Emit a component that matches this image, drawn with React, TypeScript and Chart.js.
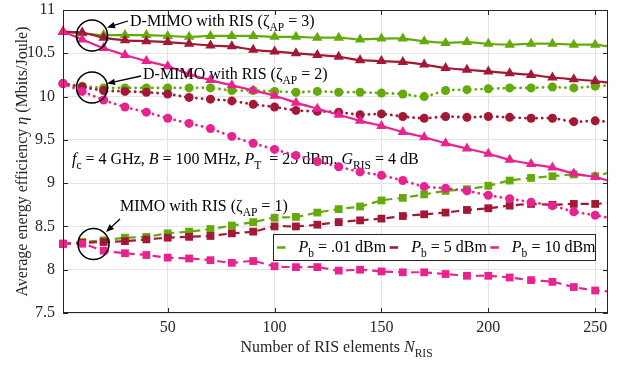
import React, { useEffect, useRef } from 'react';
import { Chart, registerables } from 'chart.js';

Chart.register(...registerables);

// ---------- data ----------
const xValues = [1, 10, 20, 30, 40, 50, 60, 70, 80, 90, 100, 110, 120, 130, 140, 150, 160, 170, 180, 190, 200, 210, 220, 230, 240, 250, 256];
const xTicks = [50, 100, 150, 200, 250];
const yTicks = [7.5, 8, 8.5, 9, 9.5, 10, 10.5, 11];

// D-MIMO with RIS (zeta_AP = 3) : solid + triangles
const green3 = [10.75, 10.73, 10.71, 10.71, 10.71, 10.70, 10.69, 10.70, 10.70, 10.70, 10.69, 10.69, 10.68, 10.68, 10.66, 10.67, 10.67, 10.64, 10.62, 10.63, 10.61, 10.60, 10.61, 10.61, 10.60, 10.60, 10.58];
const red3 = [10.75, 10.74, 10.68, 10.65, 10.64, 10.63, 10.61, 10.59, 10.58, 10.54, 10.52, 10.50, 10.48, 10.46, 10.42, 10.41, 10.40, 10.37, 10.33, 10.31, 10.29, 10.27, 10.25, 10.22, 10.20, 10.18, 10.16];
const magenta3 = [10.75, 10.66, 10.56, 10.48, 10.41, 10.35, 10.26, 10.19, 10.13, 10.07, 10.01, 9.93, 9.86, 9.79, 9.72, 9.66, 9.59, 9.53, 9.46, 9.40, 9.34, 9.27, 9.22, 9.18, 9.11, 9.07, 9.03];

// D-MIMO with RIS (zeta_AP = 2) : dotted + circles
const green2 = [10.15, 10.12, 10.10, 10.10, 10.10, 10.10, 10.10, 10.10, 10.07, 10.07, 10.06, 10.05, 10.06, 10.05, 10.05, 10.04, 10.03, 10.00, 10.07, 10.08, 10.09, 10.10, 10.10, 10.11, 10.10, 10.12, 10.13];
const red2 = [10.15, 10.11, 10.07, 10.06, 10.05, 10.03, 9.99, 9.97, 9.95, 9.91, 9.88, 9.84, 9.83, 9.82, 9.79, 9.80, 9.77, 9.75, 9.77, 9.76, 9.77, 9.76, 9.75, 9.75, 9.71, 9.72, 9.71];
const magenta2 = [10.15, 10.06, 9.96, 9.88, 9.82, 9.75, 9.69, 9.63, 9.54, 9.46, 9.39, 9.32, 9.25, 9.19, 9.13, 9.09, 9.03, 8.96, 8.94, 8.91, 8.86, 8.82, 8.78, 8.74, 8.67, 8.63, 8.60];

// MIMO with RIS (zeta_AP = 1) : dashed + squares
const green1 = [8.30, 8.32, 8.34, 8.37, 8.38, 8.42, 8.44, 8.47, 8.51, 8.55, 8.60, 8.61, 8.66, 8.70, 8.73, 8.80, 8.83, 8.87, 8.91, 8.93, 8.97, 9.03, 9.06, 9.08, 9.10, 9.08, 9.12];
const red1 = [8.30, 8.31, 8.32, 8.33, 8.35, 8.37, 8.38, 8.39, 8.42, 8.44, 8.50, 8.50, 8.52, 8.55, 8.57, 8.59, 8.62, 8.64, 8.66, 8.69, 8.71, 8.74, 8.76, 8.75, 8.76, 8.76, 8.77];
const magenta1 = [8.30, 8.30, 8.22, 8.19, 8.17, 8.14, 8.13, 8.11, 8.08, 8.10, 8.04, 8.03, 8.03, 7.99, 8.00, 7.98, 7.97, 7.97, 7.95, 7.93, 7.93, 7.91, 7.88, 7.86, 7.80, 7.76, 7.75];

const legendLabels = ['.01 dBm', '5 dBm', '10 dBm'];

const GREEN = 'rgb(100,170,10)';
const RED = 'rgb(162,24,54)';
const MAGENTA = 'rgb(232,34,142)';
const legendColors = [GREEN, RED, MAGENTA];

const FONT = '"Liberation Serif", "Times New Roman", serif';
const TXT = '#262626';

// ---------- rich text ----------
type Part = { t: string; it?: boolean; sub?: boolean };

function setFont(ctx: CanvasRenderingContext2D, p: Part, size: number) {
  const s = p.sub ? size * 0.72 : size;
  ctx.font = `${p.it ? 'italic ' : ''}${s}px ${FONT}`;
}
function measureRich(ctx: CanvasRenderingContext2D, parts: Part[], size: number) {
  let w = 0;
  for (const p of parts) {
    setFont(ctx, p, size);
    w += ctx.measureText(p.t).width;
  }
  return w;
}
function drawRich(ctx: CanvasRenderingContext2D, x: number, y: number, parts: Part[], size: number, color: string) {
  ctx.save();
  ctx.fillStyle = color;
  ctx.textBaseline = 'alphabetic';
  ctx.textAlign = 'left';
  let cx = x;
  for (const p of parts) {
    setFont(ctx, p, size);
    ctx.fillText(p.t, cx, p.sub ? y + size * 0.32 : y);
    cx += ctx.measureText(p.t).width;
  }
  ctx.restore();
  return cx - x;
}

function arrow(ctx: CanvasRenderingContext2D, x1: number, y1: number, x2: number, y2: number) {
  const ang = Math.atan2(y2 - y1, x2 - x1);
  const L = 8, W = 3.2;
  ctx.save();
  ctx.strokeStyle = '#000';
  ctx.fillStyle = '#000';
  ctx.lineWidth = 1.3;
  ctx.beginPath();
  ctx.moveTo(x1, y1);
  ctx.lineTo(x2 - Math.cos(ang) * L * 0.8, y2 - Math.sin(ang) * L * 0.8);
  ctx.stroke();
  ctx.beginPath();
  ctx.moveTo(x2, y2);
  ctx.lineTo(x2 - Math.cos(ang) * L - Math.sin(ang) * W, y2 - Math.sin(ang) * L + Math.cos(ang) * W);
  ctx.lineTo(x2 - Math.cos(ang) * L + Math.sin(ang) * W, y2 - Math.sin(ang) * L - Math.cos(ang) * W);
  ctx.closePath();
  ctx.fill();
  ctx.restore();
}

function circle(ctx: CanvasRenderingContext2D, x: number, y: number, r: number) {
  ctx.save();
  ctx.strokeStyle = '#000';
  ctx.lineWidth = 1.6;
  ctx.beginPath();
  ctx.arc(x, y, r, 0, Math.PI * 2);
  ctx.stroke();
  ctx.restore();
}

const overlay = {
  id: 'overlay',
  beforeDatasetsDraw(chart: any) {
    const ctx: CanvasRenderingContext2D = chart.ctx;
    drawRich(ctx, 72, 164, [
      { t: 'f', it: true }, { t: 'c', sub: true }, { t: ' = 4 GHz, ' },
      { t: 'B', it: true }, { t: ' = 100 MHz, ' },
      { t: 'P', it: true }, { t: 'T', sub: true }, { t: '  = 25 dBm, ' },
      { t: 'G', it: true }, { t: 'RIS', sub: true }, { t: ' = 4 dB' },
    ], 16, '#000');
  },
  afterDatasetsDraw(chart: any) {
    const ctx: CanvasRenderingContext2D = chart.ctx;
    const a = chart.chartArea;
    const xs = chart.scales.x, ys = chart.scales.y;
    // box
    ctx.save();
    ctx.strokeStyle = TXT;
    ctx.lineWidth = 1;
    ctx.strokeRect(Math.round(a.left) + 0.5, Math.round(a.top) + 0.5, Math.round(a.right - a.left) - 1, Math.round(a.bottom - a.top) - 1);
    ctx.beginPath();
    const tl = 5;
    for (const v of xTicks) {
      const px = Math.round(xs.getPixelForValue(v)) + 0.5;
      ctx.moveTo(px, a.bottom); ctx.lineTo(px, a.bottom - tl);
      ctx.moveTo(px, a.top); ctx.lineTo(px, a.top + tl);
    }
    for (const v of yTicks) {
      const py = Math.round(ys.getPixelForValue(v)) + 0.5;
      ctx.moveTo(a.left, py); ctx.lineTo(a.left + tl, py);
      ctx.moveTo(a.right, py); ctx.lineTo(a.right - tl, py);
    }
    ctx.stroke();
    ctx.restore();

    // annotations
    circle(ctx, 92, 35.5, 15.5);
    circle(ctx, 92, 87.5, 15.5);
    circle(ctx, 93.5, 244, 15.5);
    arrow(ctx, 128, 21, 107, 27.5);
    arrow(ctx, 141, 76, 107, 83.5);
    arrow(ctx, 120, 219, 106, 232);
    drawRich(ctx, 130, 26, [{ t: 'D-MIMO with RIS (' }, { t: 'ζ' }, { t: 'AP', sub: true }, { t: ' = 3)' }], 16, '#000');
    drawRich(ctx, 143, 79, [{ t: 'D-MIMO with RIS (' }, { t: 'ζ' }, { t: 'AP', sub: true }, { t: ' = 2)' }], 16, '#000');
    drawRich(ctx, 120, 211, [{ t: 'MIMO with RIS (' }, { t: 'ζ' }, { t: 'AP', sub: true }, { t: ' = 1)' }], 16, '#000');
  },
  afterDraw(chart: any) {
    const ctx: CanvasRenderingContext2D = chart.ctx;
    const a = chart.chartArea;
    // legend
    const bx = 273.5, by = 234.5, bw = 322, bh = 26;
    ctx.save();
    ctx.fillStyle = '#fff';
    ctx.fillRect(bx, by, bw, bh);
    ctx.strokeStyle = TXT;
    ctx.lineWidth = 1;
    ctx.strokeRect(bx, by, bw, bh);
    ctx.restore();
    let cx = 277;
    legendLabels.forEach((lab, i) => {
      ctx.save();
      ctx.strokeStyle = legendColors[i];
      ctx.lineWidth = 2.6;
      ctx.beginPath();
      ctx.moveTo(cx, 247.5);
      ctx.lineTo(cx + 8.5, 247.5);
      ctx.stroke();
      ctx.restore();
      const parts: Part[] = [{ t: 'P', it: true }, { t: 'b', sub: true }, { t: ' = ' + lab }];
      const w = drawRich(ctx, cx + 21.5, 252, parts, 16, '#000');
      cx = cx + 21.5 + w + 3.5;
    });

    // axis titles
    const xt: Part[] = [{ t: 'Number of RIS elements ' }, { t: 'N', it: true }, { t: 'RIS', sub: true }];
    const xw = measureRich(ctx, xt, 16);
    drawRich(ctx, (a.left + a.right) / 2 - xw / 2 + 1, 352, xt, 16, TXT);

    const yt: Part[] = [{ t: 'Average energy efficiency ' }, { t: 'η', it: true }, { t: ' (Mbits/Joule)' }];
    const yw = measureRich(ctx, yt, 16);
    ctx.save();
    ctx.translate(27, 161.5);
    ctx.rotate(-Math.PI / 2);
    drawRich(ctx, -yw / 2, 0, yt, 16, TXT);
    ctx.restore();
  },
};

type Style = 'solid' | 'dot' | 'dash';
function makeDs(values: number[], color: string, style: Style) {
  const last = xValues.length - 1;
  const r = style === 'solid' ? 6 : style === 'dot' ? 4.5 : 5.5;
  return {
    data: xValues.map((x, i) => ({ x, y: values[i] })),
    borderColor: color,
    backgroundColor: color,
    borderWidth: style === 'dot' ? 2.8 : 2.2,
    borderDash: style === 'solid' ? [] : style === 'dot' ? [0.1, 5.5] : [8, 5],
    borderCapStyle: style === 'dot' ? 'round' : 'butt',
    pointStyle: style === 'solid' ? 'triangle' : style === 'dot' ? 'circle' : 'rect',
    pointRadius: (c: any) => (c.dataIndex === last ? 0 : r),
    pointBorderWidth: 0,
    pointBackgroundColor: color,
    tension: 0.25,
    clip: false,
  };
}

export default function App() {
  const ref = useRef<HTMLCanvasElement | null>(null);
  useEffect(() => {
    if (!ref.current) return;
    const chart = new Chart(ref.current, {
      type: 'line',
      data: {
        datasets: [
          makeDs(magenta3, MAGENTA, 'solid'),
          makeDs(red3, RED, 'solid'),
          makeDs(green3, GREEN, 'solid'),
          makeDs(magenta2, MAGENTA, 'dot'),
          makeDs(red2, RED, 'dot'),
          makeDs(green2, GREEN, 'dot'),
          makeDs(magenta1, MAGENTA, 'dash'),
          makeDs(red1, RED, 'dash'),
          makeDs(green1, GREEN, 'dash'),
        ] as any,
      },
      options: {
        animation: false,
        responsive: false,
        events: [],
        layout: { padding: { left: 0, right: 10, top: 10, bottom: 0 } },
        plugins: { legend: { display: false }, tooltip: { enabled: false }, title: { display: false } },
        scales: {
          x: {
            type: 'linear',
            min: 1,
            max: 256,
            afterBuildTicks: (s: any) => { s.ticks = xTicks.map((v) => ({ value: v })); },
            afterFit: (s: any) => { s.height = 53; s.paddingLeft = 0; s.paddingRight = 0; },
            grid: { color: '#e4e4e4', drawTicks: false, lineWidth: 1 },
            border: { display: false },
            ticks: { color: TXT, font: { family: FONT, size: 16 }, padding: 5, maxRotation: 0, autoSkip: false, callback: (v: any) => String(v) },
          },
          y: {
            type: 'linear',
            min: 7.5,
            max: 11,
            afterBuildTicks: (s: any) => { s.ticks = yTicks.map((v) => ({ value: v })); },
            afterFit: (s: any) => { s.width = 63; s.paddingTop = 0; s.paddingBottom = 0; },
            grid: { color: '#e4e4e4', drawTicks: false, lineWidth: 1 },
            border: { display: false },
            ticks: { color: TXT, font: { family: FONT, size: 16 }, padding: 8, autoSkip: false, callback: (v: any) => String(v) },
          },
        },
      } as any,
      plugins: [overlay],
    });
    return () => chart.destroy();
  }, []);
  return (
    <div style={{ position: 'absolute', left: 0, top: 0, width: 618, height: 366, background: '#fff' }}>
      <canvas ref={ref} width={618} height={366} style={{ display: 'block' }} />
    </div>
  );
}
